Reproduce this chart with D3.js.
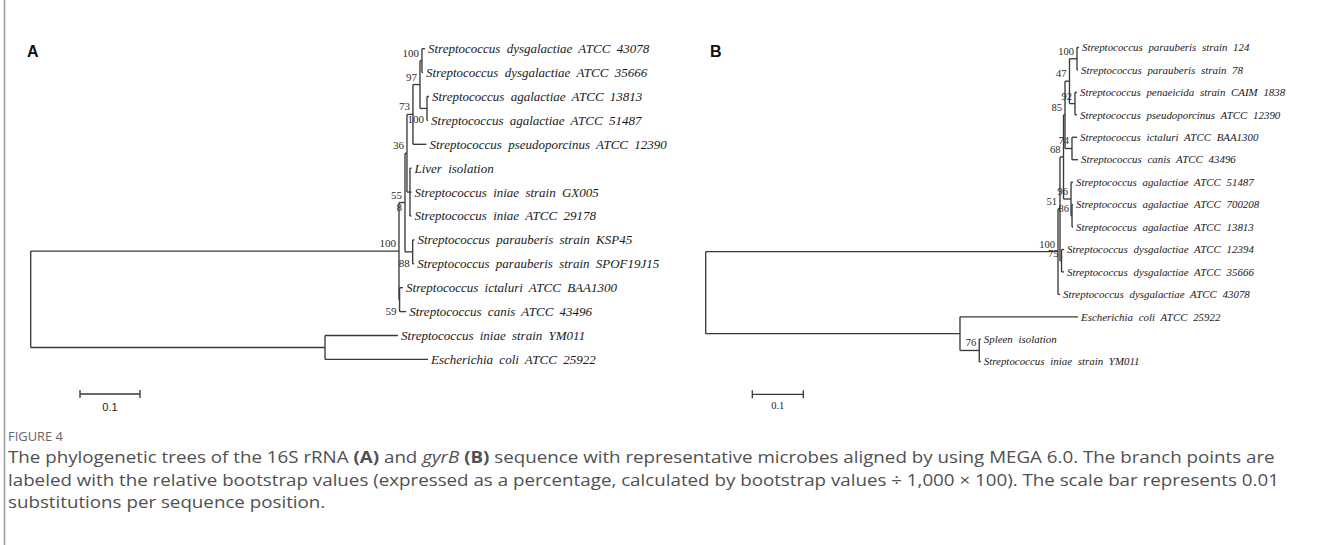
<!DOCTYPE html>
<html><head><meta charset="utf-8">
<script src="https://cdn.jsdelivr.net/npm/d3@7"></script>
<style>
html,body{margin:0;padding:0;background:#fff;}
svg{display:block;}
</style></head><body>
<svg id="fig" width="1326" height="545"></svg>
<script>
// ---------------- Panel A : 16S rRNA ----------------
const leavesA = [
  ["dys43078", "Streptococcus dysgalactiae ATCC 43078"],
  ["dys35666", "Streptococcus dysgalactiae ATCC 35666"],
  ["aga13813", "Streptococcus agalactiae ATCC 13813"],
  ["aga51487", "Streptococcus agalactiae ATCC 51487"],
  ["pseudo",   "Streptococcus pseudoporcinus ATCC 12390"],
  ["liver",    "Liver isolation"],
  ["gx005",    "Streptococcus iniae strain GX005"],
  ["ini29178", "Streptococcus iniae ATCC 29178"],
  ["ksp45",    "Streptococcus parauberis strain KSP45"],
  ["spof",     "Streptococcus parauberis strain SPOF19J15"],
  ["ictal",    "Streptococcus ictaluri ATCC BAA1300"],
  ["canis",    "Streptococcus canis ATCC 43496"],
  ["ym011",    "Streptococcus iniae strain YM011"],
  ["ecoli",    "Escherichia coli ATCC 25922"]
];
// [node, parent, branch length (substitutions/site)]
const edgesA = [
  ["U",   "root", 0.6138],
  ["N55", "U",    0.0100],
  ["N36", "N55",  0.0033],
  ["N73", "N36",  0.0100],
  ["N97", "N73",  0.0117],
  ["Ndys","N97",  0.0033],
  ["dys43078","Ndys",0.0050],
  ["dys35666","Ndys",0.0017],
  ["Naga","N97",  0.0117],
  ["aga13813","Naga",0.0033],
  ["aga51487","Naga",0.0017],
  ["pseudo","N73",0.0225],
  ["NLiv","N36",  0.0050],
  ["liver","NLiv",0.0025],
  ["gx005","NLiv",0.0025],
  ["ini29178","NLiv",0.0025],
  ["Npar","N55",  0.0128],
  ["ksp45","Npar",0.0030],
  ["spof","Npar", 0.0025],
  ["N59", "U",    0.0010],
  ["ictal","N59", 0.0055],
  ["canis","N59", 0.0110],
  ["L",   "root", 0.4905],
  ["ym011","L",   0.1217],
  ["ecoli","L",   0.1717]
];
// [node, bootstrap text, placement]
const bootA = [
  ["Ndys","100","above"],
  ["N97","97","above"],
  ["Naga","100","below"],
  ["N73","73","above"],
  ["N36","36","above"],
  ["N55","55","above"],
  ["N55","8","mid"],
  ["U","100","above"],
  ["Npar","88","below"],
  ["N59","59","below"]
];

// ---------------- Panel B : gyrB ----------------
const leavesB = [
  ["par124",  "Streptococcus parauberis strain 124"],
  ["par78",   "Streptococcus parauberis strain 78"],
  ["pen",     "Streptococcus penaeicida strain CAIM 1838"],
  ["pseudoB", "Streptococcus pseudoporcinus ATCC 12390"],
  ["ictB",    "Streptococcus ictaluri ATCC BAA1300"],
  ["canisB",  "Streptococcus canis ATCC 43496"],
  ["aga51487B","Streptococcus agalactiae ATCC 51487"],
  ["aga700208","Streptococcus agalactiae ATCC 700208"],
  ["aga13813B","Streptococcus agalactiae ATCC 13813"],
  ["dys12394","Streptococcus dysgalactiae ATCC 12394"],
  ["dys35666B","Streptococcus dysgalactiae ATCC 35666"],
  ["dys43078B","Streptococcus dysgalactiae ATCC 43078"],
  ["ecoliB",  "Escherichia coli ATCC 25922"],
  ["spleen",  "Spleen isolation"],
  ["ymB",     "Streptococcus iniae strain YM011"]
];
const edgesB = [
  ["UB",   "root", 0.6908],
  ["N51",  "UB",   0.0039],
  ["N68",  "N51",  0.0069],
  ["N85",  "N68",  0.0029],
  ["N47",  "N85",  0.0088],
  ["NparB","N47",  0.0147],
  ["par124","NparB",0.0040],
  ["par78","NparB",0.0020],
  ["N92",  "N47",  0.0108],
  ["pen",  "N92",  0.0040],
  ["pseudoB","N92",0.0040],
  ["N74",  "N85",  0.0137],
  ["ictB", "N74",  0.0100],
  ["canisB","N74", 0.0120],
  ["N96",  "N68",  0.0147],
  ["aga51487B","N96",0.0040],
  ["N86",  "N96",  0.0020],
  ["aga700208","N86",0.0020],
  ["aga13813B","N86",0.0020],
  ["N75",  "N51",  0.0030],
  ["dys12394","N75",0.0050],
  ["dys35666B","N75",0.0050],
  ["dys43078B","UB",0.0040],
  ["LB",   "root", 0.4986],
  ["ecoliB","LB",  0.2314],
  ["N76",  "LB",   0.0378],
  ["spleen","N76", 0.0030],
  ["ymB",  "N76",  0.0030]
];
const bootB = [
  ["NparB","100","above"],
  ["N47","47","above"],
  ["N92","92","above"],
  ["N85","85","above"],
  ["N74","74","above"],
  ["N68","68","above"],
  ["N96","96","above"],
  ["N86","86","above"],
  ["N51","51","above"],
  ["UB","100","above"],
  ["N75","75","above"],
  ["N76","76","above"]
];

const scaleBarValue = 0.1;
const captionTitle = "FIGURE 4";

// ---------------------------------------------------
const svg = d3.select("#fig");
svg.append("rect").attr("width",1326).attr("height",545).attr("fill","#fff");
svg.append("line").attr("x1",4.5).attr("x2",4.5).attr("y1",0).attr("y2",545)
   .attr("stroke","#9a9a9a").attr("stroke-width",1.5);

function buildTree(leaves, edges, yScale) {
  const rows = [{id:"root", parentId:null, len:0}];
  edges.forEach(([id,p,len]) => rows.push({id, parentId:p, len}));
  const root = d3.stratify().id(d=>d.id).parentId(d=>d.parentId)(rows);
  const order = new Map(leaves.map((l,i)=>[l[0], i]));
  const names = new Map(leaves);
  root.eachAfter(n => { n.idx = n.children ? d3.min(n.children, c=>c.idx) : order.get(n.id); });
  root.sort((a,b)=>a.idx-b.idx);
  root.eachBefore(n => { n.dist = n.parent ? n.parent.dist + n.data.len : 0; });
  root.eachAfter(n => {
    if (n.children) n.yy = (n.children[0].yy + n.children[n.children.length-1].yy)/2;
    else { n.yy = yScale(order.get(n.id)); n.name = names.get(n.id); }
  });
  return root;
}

function drawTree(g, root, xScale, boot, opt) {
  const map = new Map();
  root.each(n => { n.xx = xScale(n.dist); map.set(n.id, n); });
  const lines = g.append("g").attr("fill","none").attr("stroke","#3a3a3a").attr("stroke-width",1.35);
  root.each(n => {
    if (n.parent) lines.append("path").attr("d", `M${n.parent.xx},${n.yy}H${n.xx}`);
    if (n.children) {
      const a = n.children[0].yy, b = n.children[n.children.length-1].yy;
      lines.append("path").attr("d", `M${n.xx},${a}V${b}`);
    }
  });
  g.append("g").selectAll("text").data(root.leaves()).join("text")
    .attr("x", d => d.xx + 3).attr("y", d => d.yy).attr("dy","0.34em")
    .attr("font-family","'Liberation Serif','Times New Roman',serif")
    .attr("font-style","italic").attr("font-size",opt.leafSize)
    .style("word-spacing", opt.wordSpacing + "px")
    .attr("fill","#1a1a1a").text(d => d.name);
  g.append("g").selectAll("text").data(boot).join("text")
    .attr("x", d => map.get(d[0]).xx - 3)
    .attr("y", d => map.get(d[0]).yy + (d[2]==="above" ? -4 : d[2]==="below" ? 15 : 8))
    .attr("text-anchor","end")
    .attr("font-family","'Liberation Serif','Times New Roman',serif")
    .attr("font-size",opt.bootSize).attr("fill","#2a2a2a")
    .text(d => d[1]);
}

function scaleBar(g, xScale, x, y, font, size, gap) {
  const w = xScale(scaleBarValue) - xScale(0);
  const s = g.append("g").attr("stroke","#3a3a3a").attr("stroke-width",1.35).attr("fill","none");
  s.append("path").attr("d", `M${x},${y}H${x+w}M${x},${y-4}V${y+4}M${x+w},${y-4}V${y+4}`);
  g.append("text").attr("x", x + w/2).attr("y", y + gap).attr("text-anchor","middle")
    .attr("font-family", font).attr("font-size", size).attr("fill","#222")
    .text(String(scaleBarValue));
}

// Panel A
const xA = d3.scaleLinear().domain([0,1]).range([30.7, 630.7]);
const yA = d3.scaleLinear().domain([0, leavesA.length-1]).range([48.7, 359.4]);
const gA = svg.append("g");
drawTree(gA, buildTree(leavesA, edgesA, yA), xA, bootA, {leafSize:13, wordSpacing:3, bootSize:11});
scaleBar(gA, xA, 80, 394, "'Liberation Sans',Arial,sans-serif", 11, 17);
gA.append("text").attr("x",27).attr("y",57).attr("font-family","'Liberation Sans',Arial,sans-serif")
  .attr("font-weight","bold").attr("font-size",16).attr("fill","#111").text("A");

// Panel B
const xB = d3.scaleLinear().domain([0,1]).range([705.7, 1215.7]);
const yB = d3.scaleLinear().domain([0, leavesB.length-1]).range([47.5, 361.7]);
const gB = svg.append("g");
drawTree(gB, buildTree(leavesB, edgesB, yB), xB, bootB, {leafSize:10.9, wordSpacing:3, bootSize:10.5});
scaleBar(gB, xB, 752.3, 394.3, "'Liberation Serif','Times New Roman',serif", 10.5, 15);
gB.append("text").attr("x",710).attr("y",57).attr("font-family","'Liberation Sans',Arial,sans-serif")
  .attr("font-weight","bold").attr("font-size",16).attr("fill","#111").text("B");

// Caption (narrow sans, fitted to the reference line width)
const cap = svg.append("g").attr("fill","#505050").attr("font-family","'Open Sans',sans-serif");
const title = cap.append("text").attr("font-size",13).attr("fill","#666")
  .text(captionTitle);
const tw = title.node().getComputedTextLength();
title.attr("transform", `translate(8,441) scale(${55/tw},1)`);

const capLines = [
  [["The phylogenetic trees of the 16S rRNA ",""],["(A)","b"],[" and ",""],["gyrB","i"],[" ",""],["(B)","b"],[" sequence with representative microbes aligned by using MEGA 6.0. The branch points are",""]],
  [["labeled with the relative bootstrap values (expressed as a percentage, calculated by bootstrap values \u00f7 1,000 \u00d7 100). The scale bar represents 0.01",""]],
  [["substitutions per sequence position.",""]]
];
const capBase = [463, 486, 508];
const texts = capLines.map((parts, i) => {
  const t = cap.append("text").attr("font-size",16.5);
  parts.forEach(([s,f]) => {
    const ts = t.append("tspan").text(s);
    if (f==="b") ts.attr("font-weight","bold");
    if (f==="i") ts.attr("font-style","italic");
  });
  return t;
});
const sx = 1267 / texts[0].node().getComputedTextLength();
texts.forEach((t,i) => t.attr("transform", `translate(8,${capBase[i]}) scale(${sx},1)`));
</script>
</body></html>
